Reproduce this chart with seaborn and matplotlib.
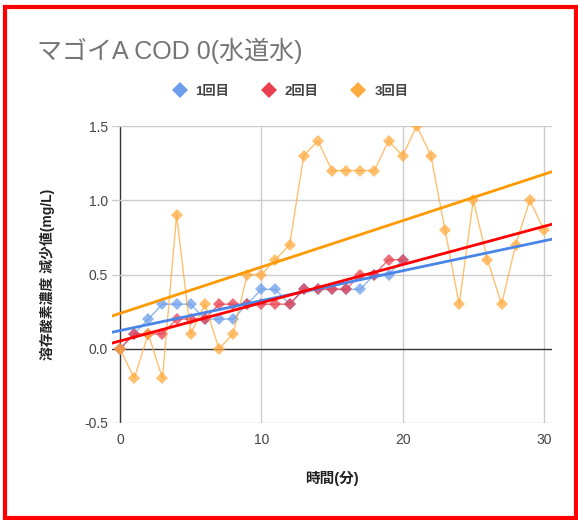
import numpy as np
import pandas as pd
import matplotlib
matplotlib.use("Agg")
import matplotlib.pyplot as plt
import seaborn as sns
from matplotlib.lines import Line2D
from matplotlib.patches import Rectangle

# data
minutes_1 = list(range(0, 21))
run1 = [0.0, 0.1, 0.2, 0.3, 0.3, 0.3, 0.2, 0.2, 0.2, 0.3, 0.4,
        0.4, 0.3, 0.4, 0.4, 0.4, 0.4, 0.4, 0.5, 0.5, 0.6]
minutes_2 = list(range(0, 21))
run2 = [0.0, 0.1, 0.1, 0.1, 0.2, 0.2, 0.2, 0.3, 0.3, 0.3, 0.3,
        0.3, 0.3, 0.4, 0.4, 0.4, 0.4, 0.5, 0.5, 0.6, 0.6]
minutes_3 = list(range(0, 31))
run3 = [0.0, -0.2, 0.1, -0.2, 0.9, 0.1, 0.3, 0.0, 0.1, 0.5, 0.5,
        0.6, 0.7, 1.3, 1.4, 1.2, 1.2, 1.2, 1.2, 1.4, 1.3,
        1.5, 1.3, 0.8, 0.3, 1.0, 0.6, 0.3, 0.7, 1.0, 0.8]
series_names = ["1回目", "2回目", "3回目"]
y_ticks = [-0.5, 0.0, 0.5, 1.0, 1.5]
x_ticks = [0, 10, 20, 30]

point_colors = ["#6d9eeb", "#e8404f", "#ffab40"]
trend_colors = ["#4a86e8", "#ff0000", "#ff9900"]

sns.set_style("white")
plt.rcParams['font.family'] = ['Liberation Sans', 'Noto Sans CJK JP', 'DejaVu Sans']

fig = plt.figure(figsize=(5.78, 5.2), dpi=100)
ax = fig.add_axes([112 / 578, 1 - 423 / 520, 440 / 578, 297 / 520])
ax.set_xlim(-0.57, 30.57)
ax.set_ylim(-0.5, 1.5)

# grid + zero lines
for t in x_ticks:
    ax.axvline(t, color="#333333" if t == 0 else "#cccccc", lw=1, zorder=0)
for t in y_ticks:
    ax.axhline(t, color="#333333" if t == 0 else "#cccccc", lw=1, zorder=0)

runs = [(minutes_1, run1), (minutes_2, run2), (minutes_3, run3)]
for (xs, ys), pc, tc in zip(runs, point_colors, trend_colors):
    df = pd.DataFrame({"x": xs, "y": ys})
    sns.lineplot(data=df, x="x", y="y", ax=ax, color=pc, lw=1, alpha=0.75,
                 marker="D", markersize=6, markeredgewidth=0, zorder=3)
    sns.regplot(data=df, x="x", y="y", ax=ax, scatter=False, ci=None,
                truncate=False, color=tc, line_kws={"lw": 2, "zorder": 4})

ax.set_xlim(-0.57, 30.57)
ax.set_ylim(-0.5, 1.5)
ax.set_xticks(x_ticks)
ax.set_yticks(y_ticks)
ax.set_yticklabels([f"{v:.1f}" for v in y_ticks])
ax.tick_params(length=0, labelsize=10, labelcolor="#444444")
ax.tick_params(axis="x", pad=7)
ax.tick_params(axis="y", pad=3)
for s in ax.spines.values():
    s.set_visible(False)

ax.set_xlabel("時間(分)", fontsize=10.5, color="#222222", labelpad=17,
              fontweight="bold")
ax.set_ylabel("溶存酸素濃度 減少値(mg/L)", fontsize=10, color="#222222",
              labelpad=21, fontweight="bold")

fig.text(37 / 578, 1 - 51 / 520, "マゴイA COD 0(水道水)", fontsize=18,
         color="#757575", va="center", ha="left")

handles = [Line2D([], [], ls="none", marker="D", markersize=8, color=c,
                  markeredgewidth=0) for c in point_colors]
fig.legend(handles, series_names, loc="center", bbox_to_anchor=(290 / 578, 1 - 92 / 520),
           ncol=3, frameon=False, prop={"size": 9.5, "weight": "bold"},
           handletextpad=0.6, columnspacing=2.4, handlelength=1.2,
           labelcolor="#444444")

fig.patches.append(Rectangle((5 / 578, 2 / 520), 571 / 578, 511 / 520,
                             transform=fig.transFigure, fill=False,
                             edgecolor="red", lw=3))

fig.savefig("out.png", dpi=100)
